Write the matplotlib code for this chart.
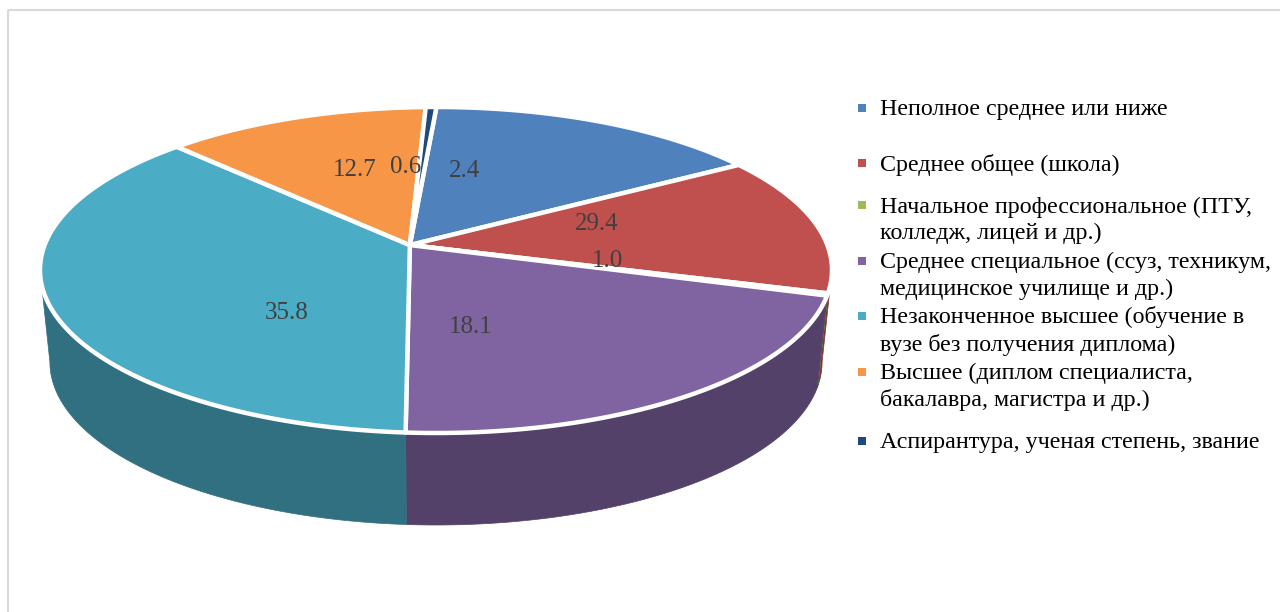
import numpy as np
import matplotlib
matplotlib.use("Agg")
import matplotlib.pyplot as plt
from matplotlib.patches import Polygon, Rectangle
from matplotlib.colors import to_rgb

# categories in drawing order (clockwise from the top)
categories = [
    "Неполное среднее или ниже",
    "Среднее общее (школа)",
    "Начальное профессиональное (ПТУ,\nколледж, лицей и др.)",
    "Среднее специальное (ссуз, техникум,\nмедицинское училище и др.)",
    "Незаконченное высшее (обучение в\nвузе без получения диплома)",
    "Высшее (диплом специалиста,\nбакалавра, магистра и др.)",
    "Аспирантура, ученая степень, звание",
]
# numbers printed on the slices
label_values = [2.4, 29.4, 1.0, 18.1, 35.8, 12.7, 0.6]
# slice sizes as they appear in the picture (percent of the circle)
slice_share = [15.3, 13.0, 0.2, 20.4, 37.7, 12.9, 0.5]
colors = ["#4F81BD", "#C0504D", "#9BBB59", "#8064A2", "#4BACC6", "#F79646", "#1F497D"]

# layout of the pseudo-3d pie (pixels)
W, H = 1280, 612
cx, cy, rx, ry = 436, 270, 396, 163
depth = 92
bottom_shrink = 0.975
apex_n = np.array([-0.066, 0.153])   # where the centre lands (perspective)
start_angle = 85.8
label_xy = [(465, 177), (597, 230), (607, 267), (471, 333), (287, 319), (355, 176), (406, 173)]


def boost(pts):
    # projective map of the unit disc onto itself that moves the centre to apex_n
    beta = np.linalg.norm(apex_n)
    n = apex_n / beta
    m = np.array([n[1], -n[0]])
    g = 1.0 / np.sqrt(1 - beta ** 2)
    par = pts @ n
    perp = pts @ m
    w = g * (1 + beta * par)
    xpar = g * (par + beta)
    return (np.outer(xpar, n) + np.outer(perp, m)) / w[:, None]


def rim(theta, drop=0.0, shrink=1.0):
    t = np.radians(theta)
    p = boost(np.column_stack([np.cos(t), np.sin(t)]))
    return np.column_stack([cx + rx * p[:, 0] * shrink, cy - ry * p[:, 1] + drop])


def darker(c, f=0.65):
    return tuple(v * f for v in to_rgb(c))


fig = plt.figure(figsize=(W / 100, H / 100), dpi=100)
ax = fig.add_axes([0, 0, 1, 1])
ax.set_xlim(0, W)
ax.set_ylim(H, 0)
ax.axis("off")

# slice angle ranges (clockwise)
bounds = []
a = start_angle
for s in slice_share:
    bounds.append((a - s * 3.6, a))
    a -= s * 3.6

# visible front arc of the rim
grid = np.linspace(0, 360, 3601)
xs = rim(grid)[:, 0]
th_l = grid[np.argmin(xs)]
th_r = grid[np.argmax(xs)]
if th_r < th_l:
    th_r += 360

# side walls
for (lo, hi), c in zip(bounds, colors):
    for k in (-360, 0, 360):
        a0 = max(lo + k, th_l)
        a1 = min(hi + k, th_r)
        if a1 <= a0:
            continue
        th = np.linspace(a0, a1, 120)
        top = rim(th)
        bot = rim(th, drop=depth, shrink=bottom_shrink)
        poly = np.vstack([top, bot[::-1]])
        ax.add_patch(Polygon(poly, closed=True, facecolor=darker(c), edgecolor=darker(c),
                             linewidth=0.5, zorder=1))

# top faces
apex = np.array([cx + rx * apex_n[0], cy - ry * apex_n[1]])
for (lo, hi), c in zip(bounds, colors):
    th = np.linspace(hi, lo, max(int((hi - lo) * 2), 4))
    poly = np.vstack([apex, rim(th)])
    ax.add_patch(Polygon(poly, closed=True, facecolor=c, edgecolor="white",
                         linewidth=3.2, joinstyle="round", zorder=2))

# data labels
for v, (x, y) in zip(label_values, label_xy):
    ax.text(x, y, f"{v:.1f}", ha="center", va="baseline", fontsize=18,
            family="Liberation Serif", color="#404040", zorder=5)

# legend
for i, (lab, c) in enumerate(zip(categories, colors)):
    lines = lab.split("\n")
    yc = 107.5 + 55.5 * i
    y0 = yc - 13.5 * (len(lines) - 1)
    ax.add_patch(Rectangle((858, y0 - 4), 8, 8, facecolor=c, edgecolor="none", zorder=5))
    for j, ln in enumerate(lines):
        ax.text(880, y0 + 27 * j + 7.5, ln, ha="left", va="baseline", fontsize=17.3,
                family="Liberation Serif", color="black", zorder=5)

# chart area border
ax.add_patch(Rectangle((8, 10), W + 20, H + 20, facecolor="none", edgecolor="#d9d9d9",
                       linewidth=1.5, zorder=6))

fig.savefig("out.png", dpi=100)
